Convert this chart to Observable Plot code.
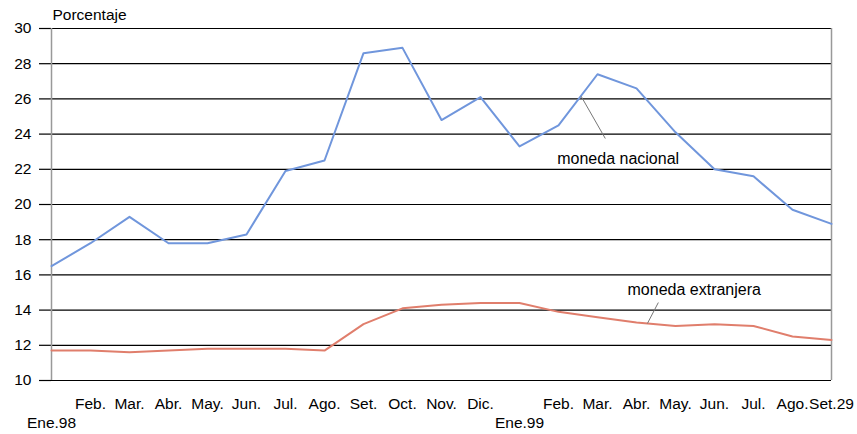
<!DOCTYPE html>
<html>
<head>
<meta charset="utf-8">
<script src="https://cdn.jsdelivr.net/npm/d3@7"></script>
<script src="https://cdn.jsdelivr.net/npm/@observablehq/plot@0.6"></script>
<style>
  html, body { margin: 0; padding: 0; background: #fff; }
  #chart svg { display: block; }
</style>
</head>
<body>
<div id="chart"></div>
<script>
const months = ["Ene.98","Feb.","Mar.","Abr.","May.","Jun.","Jul.","Ago.","Set.","Oct.","Nov.","Dic.",
                "Ene.99","Feb.","Mar.","Abr.","May.","Jun.","Jul.","Ago.","Set.29"];
const monedaNacional =  [16.5,17.8,19.3,17.8,17.8,18.3,21.9,22.5,28.6,28.9,24.8,26.1,
                         23.3,24.5,27.4,26.6,24.1,22.0,21.6,19.7,18.9];
const monedaExtranjera = [11.7,11.7,11.6,11.7,11.8,11.8,11.8,11.7,13.2,14.1,14.3,14.4,
                          14.4,13.9,13.6,13.3,13.1,13.2,13.1,12.5,12.3];
const yTicks = [10,12,14,16,18,20,22,24,26,28,30];
const annotations = [
  {label: "moneda nacional", x: 14.53, y: 22.6, x1: 13.58, y1: 26.15, x2: 14.2, y2: 23.75},
  {label: "moneda extranjera", x: 16.48, y: 15.17, x1: 15.56, y1: 14.43, x2: 15.28, y2: 13.24}
];

const idx = months.map((_, i) => i);
const nac = idx.map(i => ({i, v: monedaNacional[i]}));
const ext = idx.map(i => ({i, v: monedaExtranjera[i]}));
const secondLine = idx.filter(i => months[i].startsWith("Ene"));
const firstLine = idx.filter(i => !months[i].startsWith("Ene"));

const chart = Plot.plot({
  width: 857,
  height: 434,
  marginLeft: 51,
  marginRight: 26,
  marginTop: 28,
  marginBottom: 54,
  style: {fontFamily: "'Liberation Sans', Arial, sans-serif", fontSize: "15.5px", color: "#000", background: "#fff"},
  x: {type: "linear", domain: [0, months.length - 1]},
  y: {domain: [10, 30]},
  marks: [
    Plot.ruleY(yTicks, {stroke: "#000", strokeWidth: 1.2}),
    Plot.axisY({ticks: yTicks, tickSize: 12, tickPadding: 8, stroke: "#000", strokeWidth: 1.2, fontSize: 15.5, label: null}),
    Plot.ruleX([0, months.length - 1], {stroke: "#999", strokeWidth: 1.5}),
    Plot.axisX({ticks: firstLine, tickFormat: i => months[i], tickSize: 0, tickPadding: 17, fontSize: 15.5, label: null}),
    Plot.axisX({ticks: secondLine, tickFormat: i => months[i], tickSize: 0, tickPadding: 36, fontSize: 15.5, label: null}),
    Plot.line(nac, {x: "i", y: "v", stroke: "#7096dc", strokeWidth: 2}),
    Plot.line(ext, {x: "i", y: "v", stroke: "#e07e6c", strokeWidth: 2}),
    Plot.link(annotations, {x1: "x1", y1: "y1", x2: "x2", y2: "y2", stroke: "#777", strokeWidth: 1}),
    Plot.text(annotations, {x: "x", y: "y", text: "label", fontSize: 16, fill: "#000"}),
    Plot.text(["Porcentaje"], {frameAnchor: "top-left", dx: 1, dy: -13, textAnchor: "start", lineAnchor: "middle", fontSize: 15.5, fill: "#000"})
  ]
});
document.getElementById("chart").appendChild(chart);
</script>
</body>
</html>
